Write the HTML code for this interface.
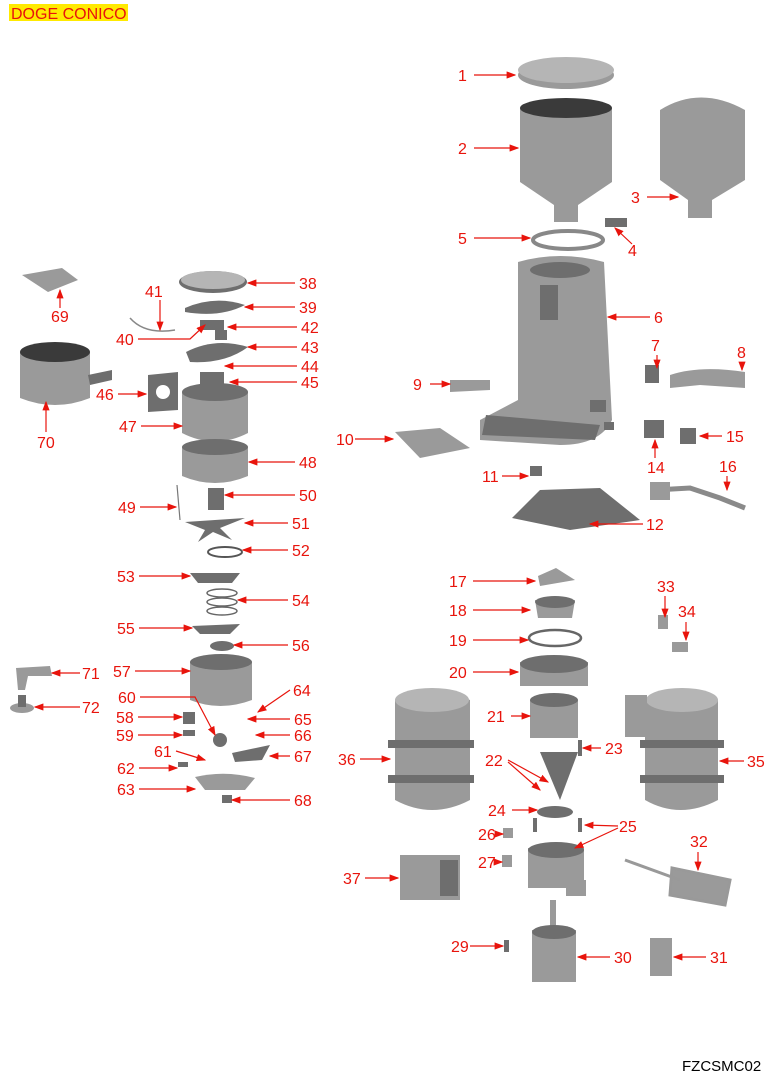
<!DOCTYPE html>
<html><head><meta charset="utf-8"><style>
html,body{margin:0;padding:0;background:#fff}
svg{display:block}
text{font-family:"Liberation Sans",Arial,sans-serif}
.l{fill:#e8140c;font-size:16px}
.a{stroke:#e8140c;stroke-width:1.2;fill:none;marker-end:url(#ah)}
.g{fill:#9a9a9a}
.d{fill:#6e6e6e}
.k{fill:#3a3a3a}
.lt{fill:#b5b5b5}
</style></head><body>
<svg width="769" height="1075" viewBox="0 0 769 1075" xmlns="http://www.w3.org/2000/svg">
<defs><marker id="ah" markerWidth="8" markerHeight="6" refX="7" refY="3" orient="auto"><path d="M0,0 L8,3 L0,6z" fill="#e8140c"/></marker></defs>
<rect x="9" y="4" width="119" height="17" fill="#ffea00"/>
<text x="11" y="19" style="fill:#e8140c;font-size:16px">DOGE CONICO</text>
<text x="682" y="1071" style="fill:#000;font-size:15px">FZCSMC02</text>

<ellipse cx="566" cy="75" rx="48" ry="14" class="g"/><ellipse cx="566" cy="70" rx="48" ry="13" class="lt"/>
<path d="M520,108 L612,108 L612,182 L578,205 L578,222 L554,222 L554,205 L520,182Z" class="g"/>
<ellipse cx="566" cy="108" rx="46" ry="10" class="k"/>
<path d="M660,110 Q700,85 745,110 L745,180 L712,200 L712,218 L688,218 L688,200 L660,180Z" class="g"/>
<rect x="605" y="218" width="22" height="9" class="d"/>
<ellipse cx="568" cy="240" rx="35" ry="9" fill="none" stroke="#888" stroke-width="4"/>
<path d="M518,262 Q560,250 604,262 L612,420 Q600,445 560,445 L480,440 L480,420 L518,400Z" class="g"/>
<ellipse cx="560" cy="270" rx="30" ry="8" class="d"/>
<rect x="540" y="285" width="18" height="35" class="d"/>
<path d="M486,415 L600,425 L595,440 L482,435Z" class="d"/>
<rect x="590" y="400" width="16" height="12" class="d"/>
<path d="M450,380 L490,380 L490,390 L450,392Z" class="g"/>
<path d="M395,432 L440,428 L470,448 L420,458Z" class="g"/>
<rect x="530" y="466" width="12" height="10" class="d"/>
<rect x="604" y="422" width="10" height="8" class="d"/>
<path d="M540,490 L600,488 L640,520 L570,530 L512,518Z" class="d"/>
<rect x="645" y="365" width="14" height="18" class="d"/>
<path d="M670,375 Q700,365 745,372 L745,388 L700,385 L670,388Z" class="g"/>
<rect x="644" y="420" width="20" height="18" class="d"/>
<rect x="680" y="428" width="16" height="16" class="d"/>
<path d="M655,490 L690,488 L720,498 L745,508" stroke="#8a8a8a" stroke-width="5" fill="none"/>
<rect x="650" y="482" width="20" height="18" class="g"/>

<path d="M538,576 L556,568 L575,580 L540,586Z" class="g"/>
<path d="M535,600 L575,600 L572,618 L538,618Z" class="g"/><ellipse cx="555" cy="602" rx="20" ry="6" class="d"/>
<ellipse cx="555" cy="638" rx="26" ry="8" fill="none" stroke="#666" stroke-width="2.5"/>
<path d="M520,662 L588,662 L588,686 L520,686Z" class="g"/><ellipse cx="554" cy="664" rx="34" ry="9" class="d"/>
<path d="M530,700 L578,700 L578,738 L530,738Z" class="g"/><ellipse cx="554" cy="700" rx="24" ry="7" class="d"/>
<path d="M540,752 L578,752 L560,800Z" class="d"/>
<rect x="578" y="740" width="4" height="16" class="d"/>
<ellipse cx="555" cy="812" rx="18" ry="6" class="d"/>
<path d="M528,848 L584,848 L584,888 L528,888Z" class="g"/><ellipse cx="556" cy="850" rx="28" ry="8" class="d"/>
<rect x="566" y="880" width="20" height="16" class="g"/>
<rect x="503" y="828" width="10" height="10" class="g"/><rect x="502" y="855" width="10" height="12" class="g"/>
<rect x="533" y="818" width="4" height="14" class="d"/><rect x="578" y="818" width="4" height="14" class="d"/>
<rect x="550" y="900" width="6" height="30" class="g"/>
<rect x="532" y="930" width="44" height="52" class="g"/><ellipse cx="554" cy="932" rx="22" ry="7" class="d"/>
<rect x="504" y="940" width="5" height="12" class="d"/>
<rect x="650" y="938" width="22" height="38" class="g"/>
<path d="M625,860 L680,880 M672,868 L730,880 L725,905 L670,895Z" stroke="#999" stroke-width="3" class="g"/>
<rect x="658" y="615" width="10" height="14" class="g"/><rect x="672" y="642" width="16" height="10" class="g"/>
<path d="M395,700 Q430,680 470,700 L470,800 Q432,820 395,800Z" class="g"/><ellipse cx="432" cy="700" rx="37" ry="12" class="lt"/>
<rect x="388" y="740" width="86" height="8" class="d"/><rect x="388" y="775" width="86" height="8" class="d"/>
<path d="M645,700 Q680,680 718,700 L718,800 Q680,820 645,800Z" class="g"/><ellipse cx="682" cy="700" rx="36" ry="12" class="lt"/>
<rect x="625" y="695" width="22" height="42" class="g"/>
<rect x="640" y="740" width="84" height="8" class="d"/><rect x="640" y="775" width="84" height="8" class="d"/>
<rect x="400" y="855" width="60" height="45" class="g"/><rect x="440" y="860" width="18" height="36" class="d"/>

<ellipse cx="213" cy="282" rx="34" ry="11" class="d"/><ellipse cx="213" cy="280" rx="32" ry="9" class="lt"/>
<path d="M185,308 Q215,295 245,305 Q220,318 185,312Z" class="d"/>
<rect x="200" y="320" width="24" height="10" class="d"/>
<path d="M130,318 Q145,335 175,330" stroke="#888" fill="none" stroke-width="1.5"/>
<rect x="215" y="330" width="12" height="10" class="d"/>
<path d="M186,352 Q215,337 248,347 Q225,364 190,362Z" class="d"/>
<rect x="200" y="372" width="24" height="12" class="d"/>
<path d="M148,375 L178,372 L178,410 L148,412Z" class="d"/><circle cx="163" cy="392" r="7" fill="#fff"/>
<path d="M182,392 L248,392 L248,433 Q215,450 182,433Z" class="g"/><ellipse cx="215" cy="392" rx="33" ry="9" class="d"/>
<path d="M182,447 L248,447 L248,476 Q215,490 182,476Z" class="g"/><ellipse cx="215" cy="447" rx="33" ry="8" class="d"/>
<line x1="177" y1="485" x2="180" y2="520" stroke="#777" stroke-width="1.2"/>
<rect x="208" y="488" width="16" height="22" class="d"/>
<path d="M185,522 L245,518 L220,528 L232,540 L213,532 L198,542 L205,530Z" class="d"/>
<ellipse cx="225" cy="552" rx="17" ry="5" fill="none" stroke="#555" stroke-width="2"/>
<path d="M190,573 L240,573 L232,583 L198,583Z" class="d"/>
<ellipse cx="222" cy="593" rx="15" ry="4" fill="none" stroke="#666" stroke-width="1.5"/><ellipse cx="222" cy="602" rx="15" ry="4" fill="none" stroke="#666" stroke-width="1.5"/><ellipse cx="222" cy="611" rx="15" ry="4" fill="none" stroke="#666" stroke-width="1.5"/>
<path d="M192,626 L240,624 L230,634 L200,634Z" class="d"/>
<ellipse cx="222" cy="646" rx="12" ry="5" class="d"/>
<path d="M190,662 L252,662 L252,700 Q220,712 190,700Z" class="g"/><ellipse cx="221" cy="662" rx="31" ry="8" class="d"/>
<rect x="183" y="712" width="12" height="12" class="d"/><rect x="183" y="730" width="12" height="6" class="d"/>
<circle cx="220" cy="740" r="7" class="d"/>
<path d="M232,753 L270,745 L262,760 L235,762Z" class="d"/>
<path d="M195,777 Q225,770 255,778 L245,790 L205,790Z" class="g"/>
<rect x="222" y="795" width="10" height="8" class="d"/>
<rect x="178" y="762" width="10" height="5" class="d"/>
<path d="M22,275 L62,268 L78,280 L48,292 Z" class="g"/>
<path d="M20,352 Q55,335 90,352 L90,398 Q55,412 20,398Z" class="g"/><ellipse cx="55" cy="352" rx="35" ry="10" class="k"/>
<path d="M88,375 L112,370 L112,380 L90,385Z" class="d"/>
<path d="M16,668 L50,666 L52,676 L28,676 L25,690 L18,690Z" class="g"/>
<ellipse cx="22" cy="708" rx="12" ry="5" class="g"/><rect x="18" y="695" width="8" height="12" class="d"/>

<g class="l">
<text x="458" y="81">1</text><text x="458" y="154">2</text><text x="631" y="203">3</text><text x="628" y="256">4</text>
<text x="458" y="244">5</text><text x="654" y="323">6</text><text x="651" y="351">7</text><text x="737" y="358">8</text>
<text x="413" y="390">9</text><text x="336" y="445">10</text><text x="482" y="482">11</text><text x="646" y="530">12</text>
<text x="647" y="473">14</text><text x="726" y="442">15</text><text x="719" y="472">16</text>
<text x="449" y="587">17</text><text x="449" y="616">18</text><text x="449" y="646">19</text><text x="449" y="678">20</text>
<text x="487" y="722">21</text><text x="485" y="766">22</text><text x="605" y="754">23</text><text x="488" y="816">24</text>
<text x="619" y="832">25</text><text x="478" y="840">26</text><text x="478" y="868">27</text><text x="451" y="952">29</text>
<text x="614" y="963">30</text><text x="710" y="963">31</text><text x="690" y="847">32</text><text x="657" y="592">33</text>
<text x="678" y="617">34</text><text x="747" y="767">35</text><text x="338" y="765">36</text><text x="343" y="884">37</text>
<text x="299" y="289">38</text><text x="299" y="313">39</text><text x="116" y="345">40</text><text x="145" y="297">41</text>
<text x="301" y="333">42</text><text x="301" y="353">43</text><text x="301" y="372">44</text><text x="301" y="388">45</text>
<text x="96" y="400">46</text><text x="119" y="432">47</text><text x="299" y="468">48</text><text x="118" y="513">49</text>
<text x="299" y="501">50</text><text x="292" y="529">51</text><text x="292" y="556">52</text><text x="117" y="582">53</text>
<text x="292" y="606">54</text><text x="117" y="634">55</text><text x="292" y="651">56</text><text x="113" y="677">57</text>
<text x="116" y="723">58</text><text x="116" y="741">59</text><text x="118" y="703">60</text><text x="154" y="757">61</text>
<text x="117" y="774">62</text><text x="117" y="795">63</text><text x="293" y="696">64</text><text x="294" y="725">65</text>
<text x="294" y="741">66</text><text x="294" y="762">67</text><text x="294" y="806">68</text><text x="51" y="322">69</text>
<text x="37" y="448">70</text><text x="82" y="679">71</text><text x="82" y="713">72</text>
</g>
<g class="a">
<path d="M474,75H515"/><path d="M474,148H518"/><path d="M647,197H678"/><path d="M632,244L615,228"/><path d="M474,238H530"/>
<path d="M650,317H608"/><path d="M657,355V368"/><path d="M742,362V370"/><path d="M430,384H450"/><path d="M355,439H393"/>
<path d="M502,476H528"/><path d="M643,524H590"/><path d="M655,458V440"/><path d="M722,436H700"/><path d="M727,476V490"/>
<path d="M473,581H535"/><path d="M473,610H530"/><path d="M473,640H528"/><path d="M473,672H518"/><path d="M511,716H530"/>
<path d="M508,760L548,782"/><path d="M508,762L540,790"/><path d="M601,748H583"/><path d="M512,810H537"/>
<path d="M618,826L585,825"/><path d="M618,828L575,848"/><path d="M498,834H503"/><path d="M498,862H502"/><path d="M470,946H503"/>
<path d="M610,957H578"/><path d="M706,957H674"/><path d="M698,852V870"/><path d="M665,596V617"/><path d="M686,622V640"/>
<path d="M744,761H720"/><path d="M360,759H390"/><path d="M365,878H398"/>
<path d="M295,283H248"/><path d="M295,307H245"/><path d="M138,339H190L205,325"/><path d="M160,300V330"/>
<path d="M297,327H228"/><path d="M297,347H248"/><path d="M297,366H225"/><path d="M297,382H230"/>
<path d="M118,394H146"/><path d="M141,426H182"/><path d="M295,462H249"/><path d="M140,507H176"/><path d="M295,495H225"/>
<path d="M288,523H245"/><path d="M288,550H243"/><path d="M139,576H190"/><path d="M288,600H238"/><path d="M139,628H192"/>
<path d="M288,645H234"/><path d="M135,671H190"/><path d="M138,717H182"/><path d="M138,735H182"/><path d="M140,697H195L215,735"/>
<path d="M176,751L205,760"/><path d="M139,768H177"/><path d="M139,789H195"/><path d="M290,690L258,712"/>
<path d="M290,719H248"/><path d="M290,735H256"/><path d="M290,756H270"/><path d="M290,800H232"/>
<path d="M60,308V290"/><path d="M46,432V402"/><path d="M80,673H52"/><path d="M80,707H35"/>
</g>
</svg>
</body></html>
